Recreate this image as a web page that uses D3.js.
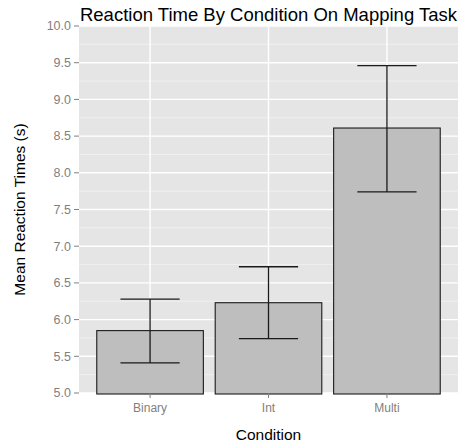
<!DOCTYPE html>
<html><head><meta charset="utf-8">
<script src="https://cdn.jsdelivr.net/npm/d3@7"></script>
<style>body{margin:0;background:#fff}svg{display:block}text{font-family:"Liberation Sans",Arial,Helvetica,sans-serif}</style>
</head><body>
<svg id="c" width="459" height="444"></svg>
<script>
const categories = ["Binary", "Int", "Multi"];
const means = [5.85, 6.23, 8.61];
const lower = [5.41, 5.74, 7.74];
const upper = [6.28, 6.72, 9.46];
const yTicks = [5.0, 5.5, 6.0, 6.5, 7.0, 7.5, 8.0, 8.5, 9.0, 9.5, 10.0];
const yMinor = [5.25, 5.75, 6.25, 6.75, 7.25, 7.75, 8.25, 8.75, 9.25, 9.75];

const svg = d3.select("#c");
const L = 79, R = 458, T = 26, B = 393;
const x = d3.scalePoint().domain(categories).range([L, R]).padding(0.6);
const step = x.step();
const y = d3.scaleLinear().domain([5, 10]).range([B, T]);

svg.append("rect").attr("x", L).attr("y", T).attr("width", R - L).attr("height", B - T).attr("fill", "#E5E5E5");
svg.append("g").selectAll("line").data(yMinor).join("line")
  .attr("x1", L).attr("x2", R).attr("y1", d => y(d)).attr("y2", d => y(d))
  .attr("stroke", "#F2F2F2").attr("stroke-width", 0.8);
svg.append("g").selectAll("line").data(yTicks).join("line")
  .attr("x1", L).attr("x2", R).attr("y1", d => y(d)).attr("y2", d => y(d))
  .attr("stroke", "#FFFFFF").attr("stroke-width", 1.4);
svg.append("g").selectAll("line").data(categories).join("line")
  .attr("x1", d => x(d)).attr("x2", d => x(d)).attr("y1", T).attr("y2", B)
  .attr("stroke", "#FFFFFF").attr("stroke-width", 1.4);

const bw = step * 0.9;
svg.append("g").selectAll("rect").data(categories).join("rect")
  .attr("x", d => x(d) - bw / 2).attr("width", bw)
  .attr("y", (d, i) => y(means[i])).attr("height", (d, i) => B - y(means[i]) + 1)
  .attr("fill", "#BEBEBE").attr("stroke", "#1a1a1a").attr("stroke-width", 1.1);

const ew = step * 0.5;
const eb = svg.append("g").attr("stroke", "#1a1a1a").attr("stroke-width", 1.3).attr("fill", "none");
categories.forEach((c, i) => {
  const cx = x(c);
  eb.append("path").attr("d",
    `M${cx - ew / 2},${y(upper[i])}H${cx + ew / 2}M${cx},${y(upper[i])}V${y(lower[i])}M${cx - ew / 2},${y(lower[i])}H${cx + ew / 2}`);
});

// y axis
const ya = svg.append("g");
ya.selectAll("line").data(yTicks).join("line")
  .attr("x1", L - 5).attr("x2", L).attr("y1", d => y(d)).attr("y2", d => y(d))
  .attr("stroke", "#7f7f7f").attr("stroke-width", 1);
ya.selectAll("text").data(yTicks).join("text")
  .attr("x", L - 8).attr("y", d => y(d)).attr("dy", "0.35em").attr("text-anchor", "end")
  .attr("font-size", 12.5).attr("fill", "#7f7f7f").text(d => d3.format(".1f")(d));

// x axis
const xa = svg.append("g");
xa.selectAll("line").data(categories).join("line")
  .attr("x1", d => x(d)).attr("x2", d => x(d)).attr("y1", B).attr("y2", B + 5)
  .attr("stroke", "#7f7f7f").attr("stroke-width", 1);
xa.selectAll("text").data(categories).join("text")
  .attr("x", d => x(d)).attr("y", B + 19).attr("text-anchor", "middle")
  .attr("font-size", 12).attr("fill", "#7f7f7f").text(d => d);

svg.append("text").attr("x", (L + R) / 2).attr("y", 440).attr("text-anchor", "middle")
  .attr("font-size", 15.5).attr("fill", "#000").text("Condition");
svg.append("text").attr("transform", `translate(25,${(T + B) / 2}) rotate(-90)`).attr("text-anchor", "middle")
  .attr("font-size", 15.5).attr("fill", "#000").text("Mean Reaction Times (s)");
svg.append("text").attr("x", (L + R) / 2).attr("y", 21).attr("text-anchor", "middle")
  .attr("font-size", 18.5).attr("fill", "#000").text("Reaction Time By Condition On Mapping Task");
</script>
</body></html>
